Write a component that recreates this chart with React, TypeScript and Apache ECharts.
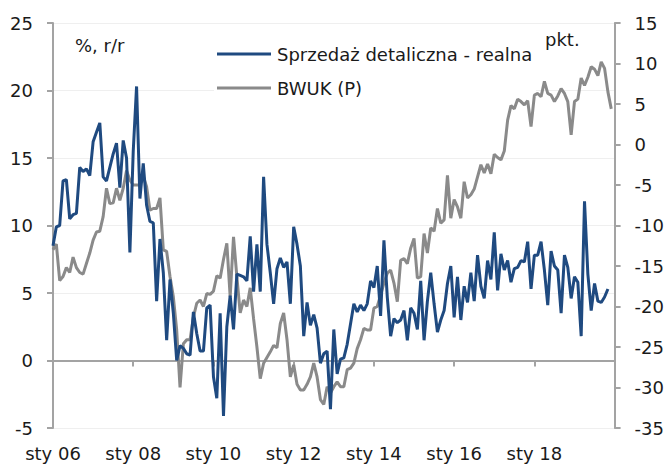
import React, { useEffect, useRef } from "react";
import * as echarts from "echarts";

const START_YEAR = 2006;
const MONTH_NAMES = ["sty", "lut", "mar", "kwi", "maj", "cze", "lip", "sie", "wrz", "paź", "lis", "gru"];
const N_CATEGORIES = 169;
const categories = Array.from({ length: N_CATEGORIES }, (_, i) =>
  `${MONTH_NAMES[i % 12]} ${String((START_YEAR + Math.floor(i / 12)) % 100).padStart(2, "0")}`
);

const SERIES_RETAIL = "Sprzedaż detaliczna - realna";
const SERIES_BWUK = "BWUK (P)";
const LEFT_UNIT = "%, r/r";
const RIGHT_UNIT = "pkt.";

const retailReal = [
  8.5, 9.9, 10.0, 13.3, 13.4, 10.5, 10.8, 10.9, 14.3, 14.0, 14.2, 13.7,
  16.2, 16.9, 17.6, 13.6, 13.3, 14.3, 15.3, 16.1, 12.8, 16.3, 15.0, 8.0,
  15.5, 20.3, 12.0, 14.6, 11.5, 10.3, 10.2, 4.4, 9.0, 6.5, 1.5, 6.0,
  3.5, 0.0, 1.1, 0.9, 0.5, 0.4, 3.6, 2.0, 0.7, 0.7, 3.9, 4.1,
  -1.2, -2.8, 3.5, -4.1, 2.5, 4.8, 2.3, 6.4, 6.3, 6.2, 5.9, 9.2,
  5.1, 8.6, 5.1, 13.6, 8.6, 6.5, 4.2, 6.8, 7.6, 6.9, 7.3, 4.2,
  9.9, 8.6, 7.0, 1.8, 4.3, 2.6, 3.4, 2.4, -0.2, 0.5, 0.7, -3.6,
  2.3, -1.0, 0.1, 0.2, 1.2, 2.7, 4.2, 3.6, 4.1, 3.7, 4.2, 5.9,
  5.4, 7.0, 3.3, 8.9, 4.7, 1.8, 3.1, 2.8, 3.0, 3.7, 1.5, 3.9,
  3.5, 2.3, 5.9, 1.5, 4.4, 6.5, 4.2, 2.1, 3.0, 3.7, 5.7, 7.0,
  3.2, 6.2, 3.0, 5.5, 4.3, 6.5, 4.4, 7.8, 5.5, 4.6, 7.4, 6.0,
  9.5, 5.2, 7.9, 6.7, 7.4, 5.8, 6.8, 6.9, 7.4, 7.3, 8.8, 5.3,
  7.8, 7.8, 8.8, 6.7, 4.1, 8.1, 7.0, 6.7, 3.5, 7.8, 6.9, 4.6,
  6.2, 5.8, 1.8, 11.8, 6.4, 3.7, 5.7, 4.4, 4.3, 4.7, 5.3,
];

const bwuk = [
  -13.0, -12.3, -16.8, -16.3, -15.2, -15.8, -13.9, -15.2, -15.8, -16.0, -14.7, -13.4,
  -11.8, -10.8, -10.7, -8.9, -5.4, -7.3, -7.2, -5.4, -6.9, -5.4, -3.2, -4.4,
  -5.0, -5.0, -5.0, -3.9, -5.2, -8.1, -7.9, -7.9, -6.6, -13.0, -13.2, -16.3,
  -18.8, -22.9, -30.0, -24.6, -24.1, -24.1, -21.3, -19.6, -19.2, -20.0, -18.4, -18.5,
  -18.1, -16.2, -16.5, -14.2, -12.2, -18.8, -11.4, -16.3, -20.8, -19.2, -20.0, -17.7,
  -21.5, -25.0, -28.9, -27.0, -26.3, -25.6, -24.8, -25.1, -22.1, -20.8, -24.1, -28.7,
  -27.2, -29.6, -30.3, -30.3, -29.6, -28.7, -27.0, -28.7, -31.5, -32.1, -29.9, -30.7,
  -29.9, -29.3, -29.9, -29.9, -27.8, -27.6, -27.0, -25.2, -24.1, -22.7, -22.9, -22.9,
  -20.2, -20.0, -18.6, -17.1, -15.9, -15.5, -17.1, -19.4, -14.3, -14.1, -14.7, -12.8,
  -11.6, -16.5, -16.3, -11.0, -13.4, -10.3, -10.7, -7.9, -9.7, -9.3, -3.8, -9.1,
  -6.8, -7.7, -9.1, -4.6, -6.6, -6.2, -5.5, -4.0, -2.5, -3.5, -2.4, -3.6,
  -1.2, -1.6, -1.9, -0.8, 3.0, 4.8, 4.4, 5.6, 5.3, 4.9, 5.4, 2.2,
  6.1, 6.3, 5.9, 7.8, 6.3, 6.1, 5.3, 6.0, 6.9, 6.3, 5.3, 1.2,
  5.3, 5.6, 8.2, 7.3, 8.3, 9.6, 9.3, 8.5, 10.2, 9.4, 6.5, 4.4,
];

const LEFT_MIN = -5;
const LEFT_MAX = 25;
const RIGHT_MIN = -35;
const RIGHT_MAX = 15;
const STEP = 5;
const LABEL_EVERY = 24;

const BLUE = "#1f4a80";
const GRAY = "#8a8a8a";
const AXIS = "#a3a3a3";
const TEXT = "#1a1a1a";
const FONT = "'DejaVu Sans', sans-serif";
const FS = 18;

export default function App() {
  const ref = useRef<HTMLDivElement>(null);
  useEffect(() => {
    if (!ref.current) return;
    const chart = echarts.init(ref.current, undefined, { renderer: "svg" });
    const txt = (text: string, x: number, y: number) => ({
      type: "text",
      x,
      y,
      z: 5,
      style: { text, fontSize: FS, fill: TEXT, fontFamily: FONT, verticalAlign: "middle", align: "left" },
    });
    chart.setOption({
      animation: false,
      textStyle: { fontFamily: FONT, color: TEXT },
      grid: { left: 53, right: 52, top: 23, bottom: 39, containLabel: false },
      xAxis: [
        {
          type: "category",
          data: categories,
          boundaryGap: false,
          position: "bottom",
          axisLine: { show: false, onZero: false },
          axisTick: { show: false },
          splitLine: { show: false },
          axisLabel: {
            interval: (i: number) => i % LABEL_EVERY === 0 && i < N_CATEGORIES - 1,
            margin: 16,
            fontSize: FS,
            color: TEXT,
            fontFamily: FONT,
          },
        },
        {
          type: "category",
          data: categories,
          boundaryGap: false,
          position: "top",
          axisLine: { show: true, onZero: true, onZeroAxisIndex: 0, lineStyle: { color: AXIS, width: 2 } },
          axisTick: {
            show: true,
            inside: true,
            length: 6,
            interval: (i: number) => i % LABEL_EVERY === 0,
            lineStyle: { color: AXIS, width: 2 },
          },
          axisLabel: { show: false },
          splitLine: { show: false },
        },
      ],
      yAxis: [
        {
          type: "value",
          min: LEFT_MIN,
          max: LEFT_MAX,
          interval: STEP,
          position: "left",
          axisLine: { show: true, lineStyle: { color: AXIS, width: 2 } },
          axisTick: { show: true, length: 6, lineStyle: { color: AXIS, width: 2 } },
          axisLabel: { margin: 20, fontSize: FS, color: TEXT, fontFamily: FONT },
          splitLine: { show: true, lineStyle: { color: "#efefef", width: 1 } },
        },
        {
          type: "value",
          min: RIGHT_MIN,
          max: RIGHT_MAX,
          interval: STEP,
          position: "right",
          axisLine: { show: true, lineStyle: { color: AXIS, width: 2 } },
          axisTick: { show: true, length: 6, lineStyle: { color: AXIS, width: 2 } },
          axisLabel: { margin: 20, fontSize: FS, color: TEXT, fontFamily: FONT },
          splitLine: { show: false },
        },
      ],
      series: [
        {
          name: SERIES_BWUK,
          type: "line",
          xAxisIndex: 0,
          yAxisIndex: 1,
          data: bwuk,
          symbol: "none",
          lineStyle: { color: GRAY, width: 3 },
          itemStyle: { color: GRAY },
          z: 3,
        },
        {
          name: SERIES_RETAIL,
          type: "line",
          xAxisIndex: 0,
          yAxisIndex: 0,
          data: retailReal,
          symbol: "none",
          lineStyle: { color: BLUE, width: 3 },
          itemStyle: { color: BLUE },
          z: 4,
        },
      ],
      graphic: [
        { type: "rect", z: 1, shape: { x: 214, y: 36, width: 322, height: 66 }, style: { fill: "#ffffff" } },
        txt(LEFT_UNIT, 75, 45),
        txt(RIGHT_UNIT, 545, 39),
        { type: "line", z: 5, shape: { x1: 217, y1: 54, x2: 271, y2: 54 }, style: { stroke: BLUE, lineWidth: 3 } },
        txt(SERIES_RETAIL, 277, 54),
        { type: "line", z: 5, shape: { x1: 217, y1: 88, x2: 271, y2: 88 }, style: { stroke: GRAY, lineWidth: 3 } },
        txt(SERIES_BWUK, 277, 88),
      ],
    });
    return () => chart.dispose();
  }, []);
  return <div ref={ref} style={{ width: 667, height: 467, position: "absolute", left: 0, top: 0 }} />;
}
